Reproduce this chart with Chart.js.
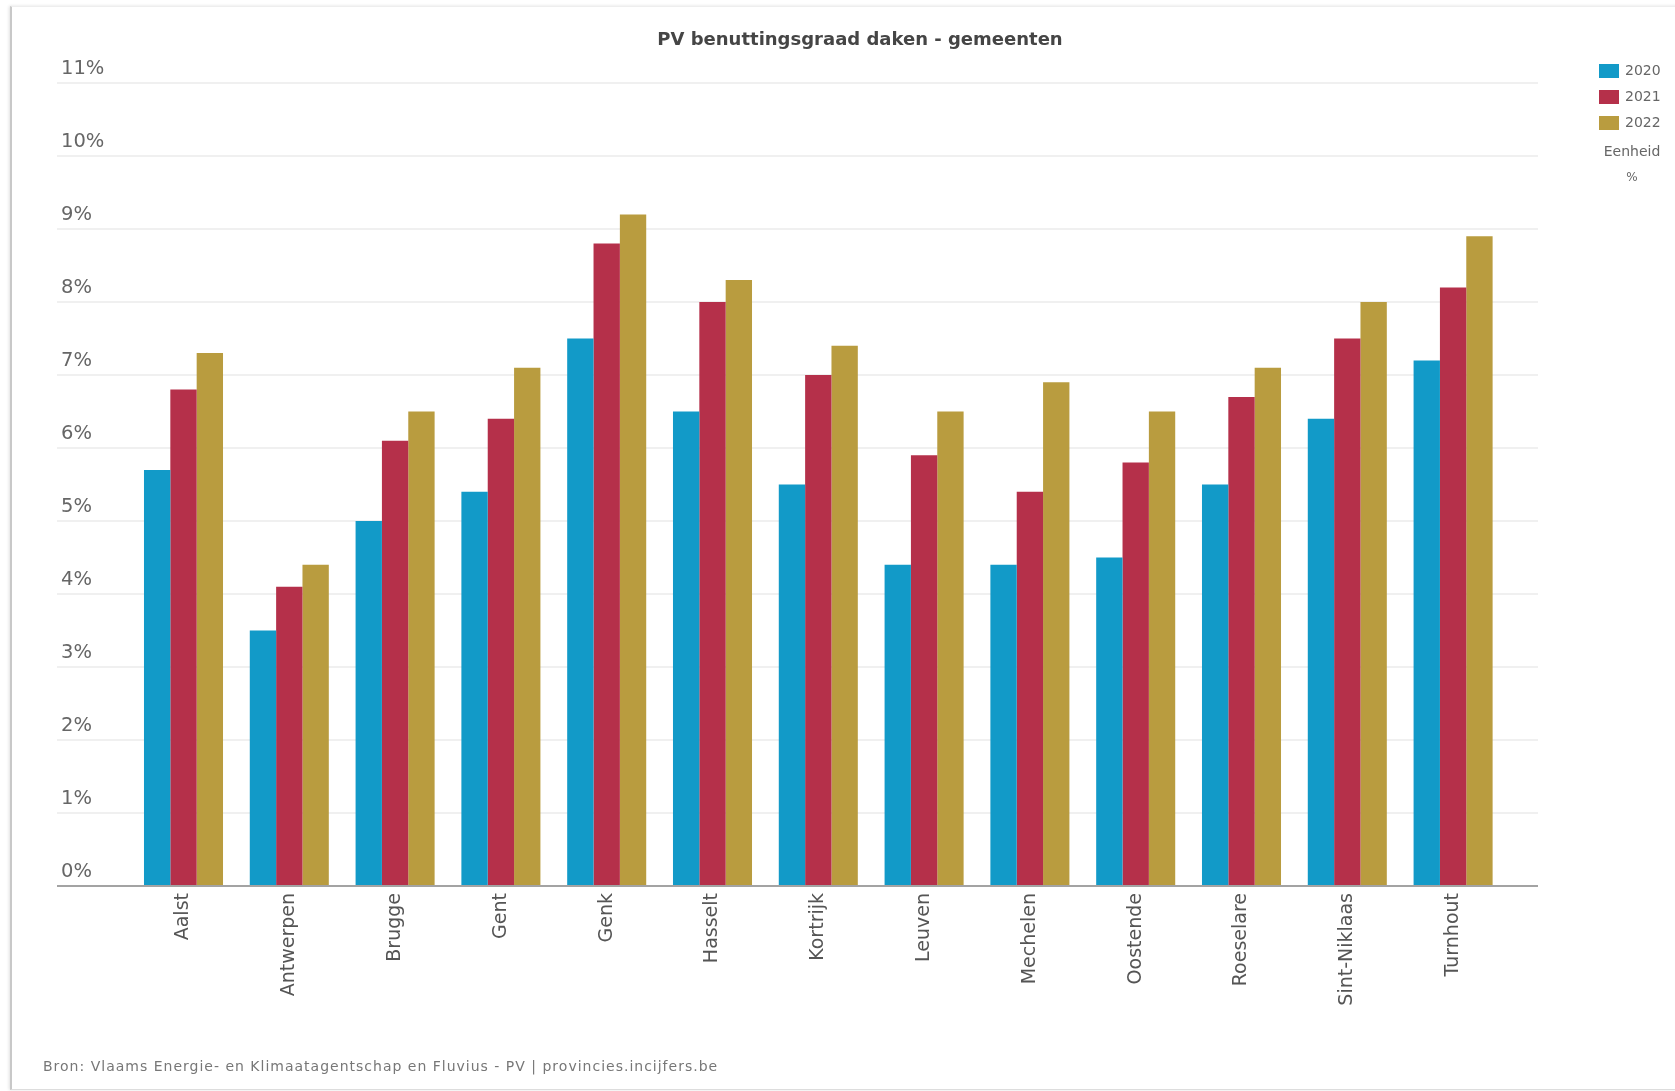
<!DOCTYPE html>
<html>
<head>
<meta charset="utf-8">
<script src="https://cdn.jsdelivr.net/npm/chart.js@4/dist/chart.umd.min.js"></script>
<style>
  html, body { margin: 0; padding: 0; background: #fff; }
  #frame { position: absolute; left: 10px; top: 6px; width: 1680px; height: 1082px;
           border-left: 2px solid #c8c8c8; border-top: 1px solid #eeeeee; border-bottom: 1px solid #dddddd;
           box-shadow: -1px 0 3px rgba(0,0,0,0.12); }
  #wrap { position: absolute; left: 0; top: 0; width: 1675px; height: 1091px; }
</style>
</head>
<body>
<div id="frame"></div>
<div id="wrap"><canvas id="c" width="1675" height="1091"></canvas></div>
<script>
// ---- data ----
const categories = ['Aalst', 'Antwerpen', 'Brugge', 'Gent', 'Genk', 'Hasselt', 'Kortrijk', 'Leuven', 'Mechelen', 'Oostende', 'Roeselare', 'Sint-Niklaas', 'Turnhout'];
const seriesNames = ['2020', '2021', '2022'];
const values2020 = [5.7, 3.5, 5.0, 5.4, 7.5, 6.5, 5.5, 4.4, 4.4, 4.5, 5.5, 6.4, 7.2];
const values2021 = [6.8, 4.1, 6.1, 6.4, 8.8, 8.0, 7.0, 5.9, 5.4, 5.8, 6.7, 7.5, 8.2];
const values2022 = [7.3, 4.4, 6.5, 7.1, 9.2, 8.3, 7.4, 6.5, 6.9, 6.5, 7.1, 8.0, 8.9];
const yTicks = [0, 1, 2, 3, 4, 5, 6, 7, 8, 9, 10, 11];
const titleText = 'PV benuttingsgraad daken - gemeenten';
const unitLabel = 'Eenheid';
const unitValue = '%';
const sourceText = 'Bron: Vlaams Energie- en Klimaatagentschap en Fluvius - PV | provincies.incijfers.be';

// ---- styles ----
const colors = ['#129ac8', '#b5304a', '#b99c3f'];
const FONT = "'DejaVu Sans', sans-serif";

const decor = {
  id: 'decor',
  afterDraw(chart) {
    const ctx = chart.ctx;
    ctx.save();
    // title
    ctx.fillStyle = '#454545';
    ctx.font = 'bold 18px ' + FONT;
    ctx.textAlign = 'center';
    ctx.textBaseline = 'middle';
    ctx.fillText(titleText, 860, 40);
    // legend
    ctx.font = '14px ' + FONT;
    ctx.textAlign = 'left';
    chart.data.datasets.forEach((ds, i) => {
      const y = 64 + i * 26;
      ctx.fillStyle = ds.backgroundColor;
      ctx.fillRect(1599, y, 20, 14);
      ctx.fillStyle = '#666';
      ctx.fillText(ds.label, 1625, y + 7.5);
    });
    ctx.textAlign = 'center';
    ctx.fillStyle = '#666';
    ctx.font = '14px ' + FONT;
    ctx.fillText(unitLabel, 1632, 152);
    ctx.font = '12px ' + FONT;
    ctx.fillText(unitValue, 1632, 178);
    // footer
    ctx.textAlign = 'left';
    ctx.fillStyle = '#777';
    ctx.font = '14px ' + FONT;
    if ('letterSpacing' in ctx) ctx.letterSpacing = '1px';
    ctx.fillText(sourceText, 43, 1067);
    ctx.restore();
  }
};

const gridColor = (c) => (c.tick && c.tick.value === 0) ? '#a3a3a3' : '#f0f0f0';
const gridWidth = 2;

new Chart(document.getElementById('c'), {
  type: 'bar',
  data: {
    labels: categories,
    datasets: [
      { label: seriesNames[0], data: values2020, backgroundColor: colors[0] },
      { label: seriesNames[1], data: values2021, backgroundColor: colors[1] },
      { label: seriesNames[2], data: values2022, backgroundColor: colors[2] }
    ]
  },
  options: {
    responsive: false,
    animation: false,
    layout: { padding: { left: 61, right: 13, top: 83, bottom: 0 } },
    datasets: { bar: { categoryPercentage: 0.747, barPercentage: 1.0, borderWidth: 0 } },
    plugins: { legend: { display: false }, title: { display: false }, tooltip: { enabled: false } },
    scales: {
      x: {
        grid: { display: false, drawTicks: false },
        border: { display: false },
        ticks: { minRotation: 90, maxRotation: 90, padding: 7, color: '#555', font: { family: FONT, size: 19 } },
        afterFit(scale) { scale.height = 205; }
      },
      y: {
        position: 'left',
        min: 0, max: 11,
        afterBuildTicks(scale) { scale.ticks = yTicks.map(v => ({ value: v })); },
        ticks: { callback: (v) => v + '%', crossAlign: 'far', labelOffset: -14, color: '#666', font: { family: FONT, size: 19.5 } },
        grid: { color: gridColor, tickColor: gridColor, lineWidth: gridWidth, drawTicks: true, tickLength: 73.6 },
        border: { display: false },
        afterFit(scale) { scale.width = 69.6; }
      },
      y2: {
        position: 'right',
        min: 0, max: 11,
        afterBuildTicks(scale) { scale.ticks = yTicks.map(v => ({ value: v })); },
        ticks: { display: false },
        grid: { color: gridColor, tickColor: gridColor, lineWidth: gridWidth, drawOnChartArea: false, drawTicks: true, tickLength: 32 },
        border: { display: false },
        afterFit(scale) { scale.width = 156; }
      }
    }
  },
  plugins: [decor]
});
</script>
</body>
</html>
